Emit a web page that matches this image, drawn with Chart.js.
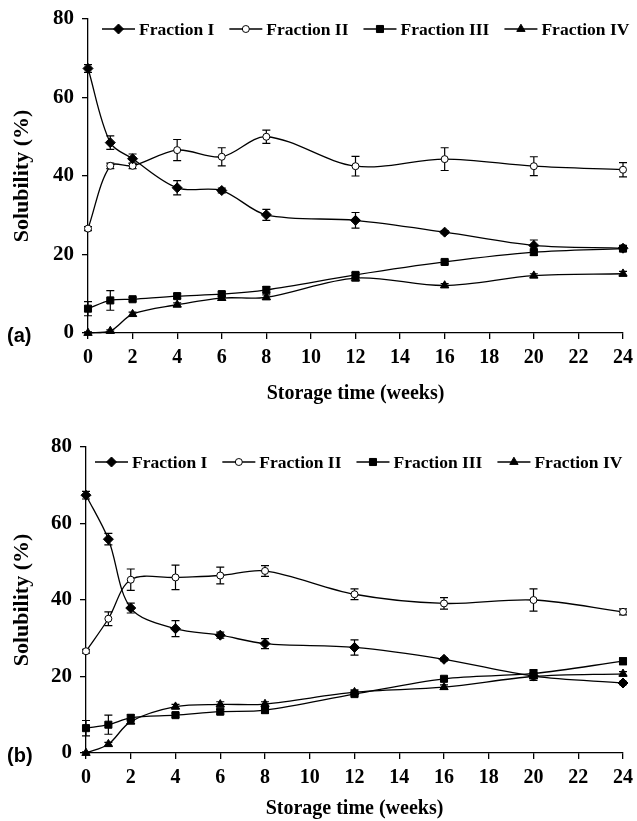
<!DOCTYPE html>
<html>
<head>
<meta charset="utf-8">
<script src="https://cdn.jsdelivr.net/npm/chart.js@4.4.1/dist/chart.umd.min.js"></script>
<style>
  body { margin: 0; background: #fff; }
  .panel { position: absolute; left: 0; width: 637px; }
  #panelA { top: 0; height: 412px; }
  #panelB { top: 412px; height: 409px; }
</style>
</head>
<body>
<div class="panel" id="panelA"><canvas id="chartA"></canvas></div>
<div class="panel" id="panelB"><canvas id="chartB"></canvas></div>
<script>
// sampling weeks (x values)
const weeks = [0, 1, 2, 4, 6, 8, 12, 16, 20, 24];
const fractionNames = ['Fraction I', 'Fraction II', 'Fraction III', 'Fraction IV'];
const xTitle = 'Storage time (weeks)';
const yTitle = 'Solubility (%)';

// panel (a)
const aFracI   = [67.4, 48.5, 44.4, 37.0, 36.3, 30.1, 28.7, 25.7, 22.3, 21.6];
const aFracII  = [26.6, 42.6, 42.6, 46.6, 44.9, 50.0, 42.5, 44.3, 42.5, 41.6];
const aFracIII = [6.2, 8.3, 8.6, 9.4, 9.9, 11.0, 14.8, 18.1, 20.6, 21.5];
const aFracIV  = [0, 0.5, 4.8, 7.2, 8.9, 9.1, 14.0, 12.1, 14.6, 15.1];
const aErrI    = [1.0, 1.7, 1.2, 1.8, 0.6, 1.4, 2.0, 0.4, 1.4, 0.5];
const aErrII   = [0.5, 0.7, 0.7, 2.7, 2.3, 1.7, 2.5, 2.9, 2.4, 1.8];
const aErrIII  = [1.8, 2.5, 0.5, 0.6, 0.6, 0.8, 0.6, 0.5, 0.8, 0.6];
const aErrIV   = [0.3, 0.3, 0.5, 0.5, 0.6, 0.6, 0.8, 0.5, 0.5, 0.6];

// panel (b)
const bFracI   = [67.4, 55.9, 37.9, 32.5, 30.8, 28.6, 27.6, 24.5, 20.1, 18.3];
const bFracII  = [26.6, 35.1, 45.3, 45.9, 46.4, 47.6, 41.5, 39.1, 40.0, 36.9];
const bFracIII = [6.5, 7.4, 9.2, 9.9, 10.8, 11.2, 15.4, 19.4, 20.8, 24.0];
const bFracIV  = [0, 2.3, 8.2, 12.1, 12.7, 12.8, 15.9, 17.2, 20.0, 20.7];
const bErrI    = [1.0, 1.5, 1.3, 2.1, 0.8, 1.3, 2.0, 0.4, 0.6, 0.4];
const bErrII   = [0.5, 1.8, 2.8, 3.2, 2.2, 1.4, 1.4, 1.5, 2.9, 0.8];
const bErrIII  = [2.0, 2.5, 0.8, 0.5, 0.6, 0.8, 0.5, 0.6, 1.0, 0.9];
const bErrIV   = [0.3, 0.5, 0.6, 0.6, 0.7, 0.6, 0.6, 0.6, 1.0, 0.6];

const markerStyles = ['rectRot', 'circle', 'rect', 'triangle'];
const markerRadius = [5, 3.5, 5, 4.8];
const markerFill = ['#000', '#fff', '#000', '#000'];

const serif = '"Liberation Serif", "Times New Roman", serif';

// vertical error bars, drawn under the markers
const errorBars = {
  id: 'errorBars',
  beforeDatasetsDraw(chart) {
    const { ctx, scales: { x, y } } = chart;
    ctx.save();
    ctx.strokeStyle = '#000';
    ctx.lineWidth = 1.2;
    chart.data.datasets.forEach(ds => {
      ds.data.forEach((p, j) => {
        const e = ds.errors[j];
        if (!e) return;
        const px = x.getPixelForValue(p.x);
        const top = y.getPixelForValue(p.y + e);
        const bot = y.getPixelForValue(Math.max(p.y - e, 0));
        ctx.beginPath();
        ctx.moveTo(px, top); ctx.lineTo(px, bot);
        ctx.moveTo(px - 4, top); ctx.lineTo(px + 4, top);
        ctx.moveTo(px - 4, bot); ctx.lineTo(px + 4, bot);
        ctx.stroke();
      });
    });
    ctx.restore();
  }
};

// legend inside the plot, line + marker like the original
const inlineLegend = {
  id: 'inlineLegend',
  afterDatasetsDraw(chart, args, opts) {
    const { ctx, chartArea } = chart;
    let x = chartArea.left + opts.offsetX;
    const y = chartArea.top + opts.offsetY;
    ctx.save();
    ctx.font = 'bold 17.5px ' + serif;
    ctx.textBaseline = 'middle';
    chart.data.datasets.forEach(ds => {
      ctx.strokeStyle = '#000';
      ctx.lineWidth = 1.3;
      ctx.beginPath();
      ctx.moveTo(x, y); ctx.lineTo(x + 33, y);
      ctx.stroke();
      ctx.fillStyle = ds.pointBackgroundColor;
      ctx.lineWidth = 1;
      Chart.helpers.drawPoint(ctx, { pointStyle: ds.pointStyle, radius: ds.pointRadius, borderWidth: 1, rotation: 0 }, x + 16.5, y);
      ctx.fillStyle = '#000';
      ctx.fillText(ds.label, x + 37, y + 1);
      x += 37 + ctx.measureText(ds.label).width + 15;
    });
    ctx.restore();
  }
};

// "(a)" / "(b)" tag next to the origin
const panelTag = {
  id: 'panelTag',
  afterDraw(chart, args, opts) {
    const { ctx, scales: { y } } = chart;
    ctx.save();
    ctx.font = 'bold 20px "Liberation Sans", Arial, sans-serif';
    ctx.fillStyle = '#000';
    ctx.textBaseline = 'middle';
    ctx.fillText(opts.text, 7, y.getPixelForValue(0) + 3);
    ctx.restore();
  }
};

function makeDatasets(series, errors) {
  return series.map((vals, i) => ({
    label: fractionNames[i],
    data: weeks.map((w, j) => ({ x: w, y: vals[j] })),
    errors: errors[i],
    borderColor: '#000',
    borderWidth: 1.3,
    pointStyle: markerStyles[i],
    pointRadius: markerRadius[i],
    pointBackgroundColor: markerFill[i],
    pointBorderColor: '#000',
    pointBorderWidth: 1,
    tension: 0.33,
    fill: false,
    clip: false
  }));
}

function makeChart(canvasId, series, errors, cfg) {
  const tickFont = { family: serif, size: 20, weight: 'bold' };
  const axisGrid = { drawOnChartArea: false, drawTicks: true, tickLength: 6, color: '#000', lineWidth: 1.3 };
  return new Chart(document.getElementById(canvasId), {
    type: 'line',
    data: { datasets: makeDatasets(series, errors) },
    options: {
      responsive: true,
      maintainAspectRatio: false,
      animation: false,
      layout: { padding: { left: 0, right: 14, top: cfg.top, bottom: 0 } },
      plugins: {
        legend: { display: false },
        tooltip: { enabled: false },
        inlineLegend: { offsetX: cfg.legendX, offsetY: cfg.legendY },
        panelTag: { text: cfg.tag }
      },
      scales: {
        x: {
          type: 'linear',
          min: 0,
          max: 24,
          ticks: { stepSize: 2, color: '#000', font: tickFont, padding: 7, maxRotation: 0, autoSkip: false },
          grid: axisGrid,
          border: { color: '#000', width: 1.3 },
          title: { display: true, text: xTitle, color: '#000', font: { family: serif, size: 20, weight: 'bold' }, padding: { top: 0, bottom: cfg.xTitlePad } },
          afterFit(scale) {
            scale.height = cfg.xHeight;
            scale.paddingLeft = 0;
            scale.paddingRight = 0;
          }
        },
        y: {
          min: 0,
          max: 80,
          ticks: { stepSize: 20, color: '#000', font: { family: serif, size: 21, weight: 'bold' }, padding: 8 },
          grid: axisGrid,
          border: { color: '#000', width: 1.3 },
          title: { display: true, text: yTitle, color: '#000', font: { family: serif, size: 22, weight: 'bold' }, padding: { top: 9, bottom: 0 } },
          afterFit(scale) {
            scale.width = cfg.yWidth;
            scale.paddingTop = 0;
            scale.paddingBottom = 0;
          }
        }
      }
    },
    plugins: [errorBars, inlineLegend, panelTag]
  });
}

makeChart('chartA', [aFracI, aFracII, aFracIII, aFracIV], [aErrI, aErrII, aErrIII, aErrIV],
  { top: 19, xHeight: 79, xTitlePad: 6, yWidth: 88, legendX: 14, legendY: 10, tag: '(a)' });
makeChart('chartB', [bFracI, bFracII, bFracIII, bFracIV], [bErrI, bErrII, bErrIII, bErrIV],
  { top: 35, xHeight: 68, xTitlePad: 0, yWidth: 86, legendX: 9, legendY: 15, tag: '(b)' });
</script>
</body>
</html>
